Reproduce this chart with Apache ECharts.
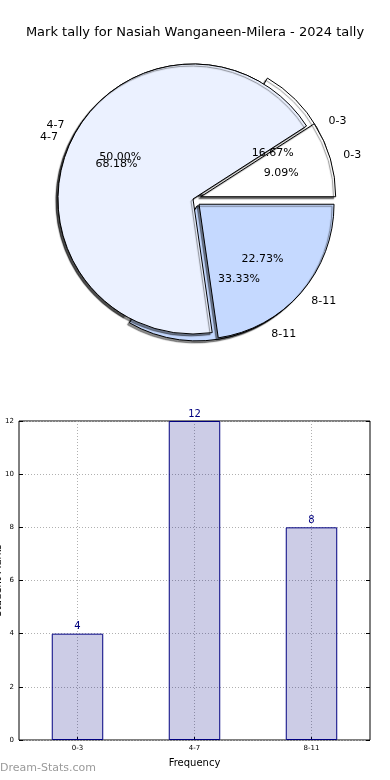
<!DOCTYPE html>
<html><head><meta charset="utf-8">
<script src="https://cdn.jsdelivr.net/npm/echarts@6/dist/echarts.min.js"></script>
<style>html,body{margin:0;padding:0;background:#fff}#c{width:390px;height:780px}</style>
</head><body><div id="c"></div>
<script>
const titleText = 'Mark tally for Nasiah Wanganeen-Milera - 2024 tally';
const categories = ['0-3', '4-7', '8-11'];
const tallyCounts = [4, 12, 8];      // bars and first pie (16.67 / 50.00 / 33.33 %)
const secondCounts = [2, 15, 5];     // second pie (9.09 / 68.18 / 22.73 %)
const explodedCats = ['0-3', '8-11'];
const sliceColors = ['#ffffff', '#ebf1ff', '#c5d9ff'];
const yMin = 0, yMax = 12, yStep = 2;
const xAxisName = 'Frequency';
const yAxisName = 'Student Marks';
const watermark = 'Dream-Stats.com';

const FONT = 'DejaVu Sans';
const CX = 193, CY = 199, R = 135, EXPL = 8;

function pieData(values, colored) {
  return categories.map((c, i) => ({
    name: c, value: values[i],
    selected: explodedCats.includes(c),
    itemStyle: colored ? { color: sliceColors[i] } : undefined
  }));
}
const common = {
  type: 'pie', center: [CX, CY], startAngle: 0, clockwise: false, avoidLabelOverlap: false,
  selectedMode: 'multiple', selectedOffset: EXPL, silent: true,
  emphasis: { disabled: true }, labelLayout: { hideOverlap: false }
};
function drawPie(values) {
  return Object.assign({}, common, {
    radius: [0, R],
    label: { show: false }, labelLine: { show: false },
    itemStyle: { borderColor: '#000', borderWidth: 1, shadowBlur: 1,
      shadowColor: 'rgba(0,0,0,0.45)', shadowOffsetX: -2, shadowOffsetY: 2 },
    data: pieData(values, true)
  });
}
function pctPie(values) {
  return Object.assign({}, common, {
    radius: [0, R * 1.2], z: 5,
    itemStyle: { color: 'rgba(0,0,0,0)', borderWidth: 0 },
    label: { show: true, position: 'inside', fontFamily: FONT, fontSize: 11, color: '#000',
      formatter: p => p.percent.toFixed(2) + '%' },
    labelLine: { show: false },
    data: pieData(values, false)
  });
}
function namePie(values) {
  return Object.assign({}, common, {
    radius: [0, R * 1.1], z: 5,
    itemStyle: { color: 'rgba(0,0,0,0)', borderWidth: 0 },
    label: { show: true, position: 'outside', fontFamily: FONT, fontSize: 11, color: '#000',
      distanceToLabelLine: 0, formatter: '{b}' },
    labelLine: { show: false, length: 0, length2: 0 },
    data: pieData(values, false)
  });
}

const gridLine = { show: true, lineStyle: { color: '#b0b0b0', type: [1, 2], width: 1 } };

const chart = echarts.init(document.getElementById('c'), null, { renderer: 'canvas' });
chart.setOption({
  animation: false,
  backgroundColor: '#fff',
  textStyle: { fontFamily: FONT },
  title: { text: titleText, left: 'center', top: 21,
    textStyle: { fontFamily: FONT, fontSize: 13, fontWeight: 'normal', color: '#000' } },
  graphic: [{ type: 'text', left: 0, top: 763,
    style: { text: watermark, fill: '#9a9a9a', font: '11px "DejaVu Sans"' } }],
  grid: { left: 19, right: 20, top: 421, bottom: 40, show: true, containLabel: false,
    outerBoundsMode: 'none',
    borderColor: '#000', borderWidth: 1, backgroundColor: 'transparent' },
  xAxis: [
    { type: 'category', data: categories, gridIndex: 0,
      axisLine: { show: false },
      axisTick: { show: true, inside: true, alignWithLabel: true, length: 3, lineStyle: { color: '#000' } },
      axisLabel: { fontSize: 7, color: '#000', margin: 5 },
      splitLine: { show: false },
      name: xAxisName, nameLocation: 'middle', nameGap: 18,
      nameTextStyle: { fontSize: 10, color: '#000' } },
    { type: 'category', gridIndex: 0, boundaryGap: false, position: 'bottom',
      data: ['', '', '', '', '', '', ''],
      axisLine: { show: false }, axisTick: { show: false }, axisLabel: { show: false },
      splitLine: Object.assign({}, gridLine, { interval: (i) => i % 2 === 1 }) }
  ],
  yAxis: [
    { type: 'value', min: yMin, max: yMax, interval: yStep, gridIndex: 0,
      axisLine: { show: false },
      axisTick: { show: true, inside: true, length: 4, lineStyle: { color: '#000' } },
      axisLabel: { fontSize: 7, color: '#000', margin: 5 },
      splitLine: gridLine,
      name: yAxisName, nameLocation: 'middle', nameGap: 16, nameMoveOverlap: false,
      nameTextStyle: { fontSize: 10, color: '#000' } },
    { type: 'value', min: yMin, max: yMax, interval: yStep, gridIndex: 0, position: 'right',
      axisLine: { show: false },
      axisTick: { show: true, inside: true, length: 4, lineStyle: { color: '#000' } },
      axisLabel: { show: false }, splitLine: { show: false } }
  ],
  series: [
    drawPie(tallyCounts),
    drawPie(secondCounts),
    pctPie(tallyCounts),
    pctPie(secondCounts),
    namePie(tallyCounts),
    namePie(secondCounts),
    { type: 'bar', xAxisIndex: 0, yAxisIndex: 0, data: tallyCounts, barWidth: '44%',
      itemStyle: { color: 'rgba(0,0,128,0.2)', borderColor: '#000080', borderWidth: 1 },
      label: { show: true, position: 'top', color: '#000080', fontSize: 10, distance: 2 },
      emphasis: { disabled: true } }
  ]
});
</script></body></html>
